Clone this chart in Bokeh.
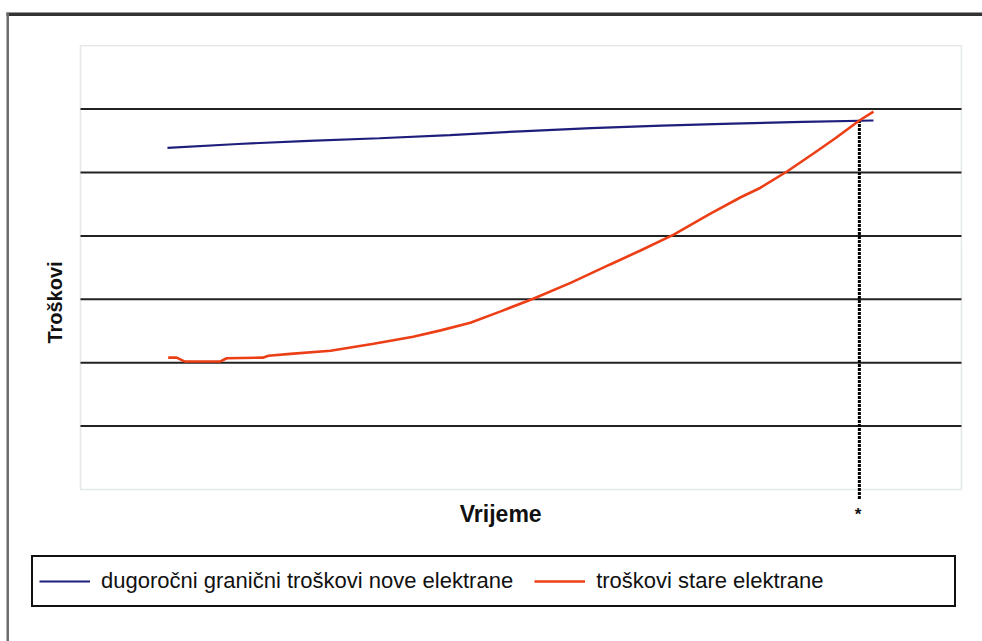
from bokeh.plotting import figure
from bokeh.models import Range1d, Label, Legend, LegendItem, BoxAnnotation
from bokeh.embed import file_html
from bokeh.resources import INLINE
import math

# ---- data (arbitrary units, time index 0..100) ----
t_new = [0, 10, 20, 30, 40, 50, 60, 70, 80, 90, 100]
cost_new = [5.39, 5.45, 5.50, 5.54, 5.59, 5.65, 5.70, 5.74, 5.77, 5.80, 5.82]

t_old = [0.1, 1.3, 2.4, 7.5, 8.4, 13.5, 14.3, 17.4, 23.1, 29.2, 34.8, 38.7, 42.9,
         47.2, 51.8, 57.1, 62.7, 67.0, 71.7, 76.9, 81.2, 84.0, 87.8, 91.5, 94.6, 98.0, 100]
cost_old = [2.08, 2.08, 2.02, 2.02, 2.07, 2.08, 2.11, 2.14, 2.19, 2.30, 2.41, 2.51, 2.63,
            2.81, 3.01, 3.26, 3.55, 3.77, 4.02, 4.35, 4.61, 4.76, 5.02, 5.30, 5.54, 5.82, 5.96]

grid_levels = [1, 2, 3, 4, 5, 6]
y_bottom, y_top = 0, 7
t_cross = [98.0]
cost_cross = [5.82]

name_new = "dugoročni granični troškovi nove elektrane"
name_old = "troškovi stare elektrane"
x_title = "Vrijeme"
y_title = "Troškovi"
cross_mark = "*"

# ---- styling ----
FONT = "Liberation Sans"
BLUE = "#1e1e7c"
ORANGE = "#ec3f16"
X_LEFT, X_RIGHT = -12.32, 112.46       # plot-area horizontal extent

p = figure(width=982, height=641, output_backend="svg", toolbar_location=None,
           x_axis_type=None, y_axis_type=None,
           x_range=Range1d(-23.65, 115.44), y_range=Range1d(-2.397, 7.713),
           min_border=0)
p.outline_line_color = None
p.background_fill_color = "white"
p.border_fill_color = "white"
p.xgrid.visible = False
p.ygrid.visible = False

# outer chart frame (top and left edges)
p.add_layout(BoxAnnotation(left=-22.8, right=115.44, top=7.525, bottom=7.47,
                           fill_color="#333333", fill_alpha=1, line_color=None))
p.add_layout(BoxAnnotation(left=-22.8, right=-22.45, top=7.52, bottom=-2.397,
                           fill_color="#6a6a6a", fill_alpha=1, line_color=None))

# plot-area border
p.add_layout(BoxAnnotation(left=X_LEFT, right=X_RIGHT, bottom=y_bottom, top=y_top,
                           fill_alpha=0, line_color="#a9b5b9", line_width=1.6,
                           level="underlay"))

# horizontal gridlines
p.segment(x0=[X_LEFT] * len(grid_levels), y0=grid_levels,
          x1=[X_RIGHT] * len(grid_levels), y1=grid_levels,
          line_color="#222222", line_width=2)

# dotted drop line at the crossing
p.segment(x0=t_cross, y0=[-0.15], x1=t_cross, y1=cost_cross,
          line_color="black", line_width=3, line_dash="3 1")

r_new = p.line(t_new, cost_new, line_color=BLUE, line_width=2.2)
r_old = p.line(t_old, cost_old, line_color=ORANGE, line_width=2.6)

p.add_layout(Label(x=47.2, y=-0.39, text=x_title, text_font=FONT, text_font_style="bold",
                   text_font_size="23px", text_align="center", text_baseline="middle",
                   text_color="#111111"))
p.add_layout(Label(x=t_cross[0] - 0.2, y=-0.39, text=cross_mark, text_font=FONT,
                   text_font_style="bold", text_font_size="17px", text_align="center",
                   text_baseline="middle", text_color="#111111"))
p.add_layout(Label(x=-16.0, y=2.95, text=y_title, text_font=FONT, text_font_style="bold",
                   text_font_size="20px", text_align="center", text_baseline="middle",
                   angle=math.pi / 2, text_color="#111111"))

legend = Legend(items=[LegendItem(label=name_new, renderers=[r_new]),
                       LegendItem(label=name_old, renderers=[r_old])],
                orientation="horizontal", location=(31, 34), margin=0, padding=6,
                spacing=21, label_standoff=11, glyph_width=51, glyph_height=20,
                label_text_font=FONT, label_text_font_size="22px", label_text_color="#111111",
                label_width=352, label_height=36,
                border_line_color="#111111", border_line_width=2.2, border_line_alpha=1,
                background_fill_color="white", background_fill_alpha=1)
p.add_layout(legend)

open("out.html", "w").write(file_html(p, INLINE))
